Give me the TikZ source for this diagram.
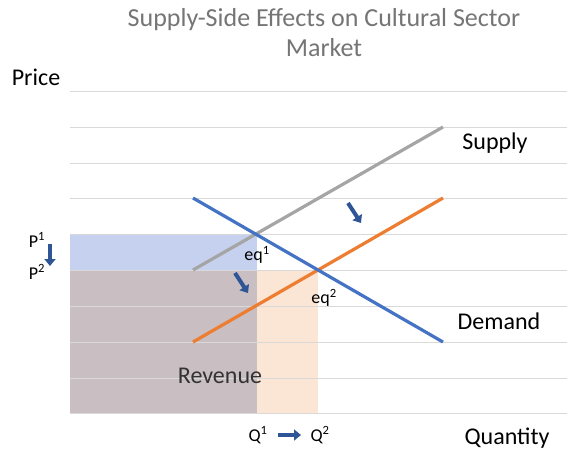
\documentclass[tikz,border=0pt]{standalone}
\usepackage{fontspec}
\setmainfont{Carlito}
\usetikzlibrary{arrows.meta}
\definecolor{gridc}{HTML}{D9D9D9}
\definecolor{dblue}{HTML}{4472C4}
\definecolor{sorange}{HTML}{ED7D31}
\definecolor{sgray}{HTML}{A5A5A5}
\definecolor{fblue}{HTML}{C5D1EE}
\definecolor{fbrown}{HTML}{C9BEC1}
\definecolor{fpeach}{HTML}{FBE5D4}
\definecolor{arrc}{HTML}{2F5597}
\definecolor{titlec}{HTML}{757575}
\tikzset{
  gridline/.style={draw=gridc, line width=1pt},
  curve/.style={line width=3.2pt},
  lbl/.style={inner sep=0pt, font=\fontsize{24}{26}\selectfont, text=black},
  small/.style={inner sep=0pt, font=\fontsize{18}{20}\selectfont, text=black},
  eqlbl/.style={inner sep=0pt, font=\fontsize{18}{20}\selectfont, text=black},
  blockarrow/.style={draw=arrc, line width=4pt, -{Triangle[length=7pt,width=11pt]}},
}
\begin{document}
\begin{tikzpicture}[x=1pt,y=-1pt]
\useasboundingbox (0,0) rectangle (583,456);
% fills
\fill[fblue] (70,234) rectangle (257,270);
\fill[fbrown] (70,270) rectangle (257,413);
\fill[fpeach] (257,270) rectangle (318,413);
% grid
\foreach \y in {91,127,163,198,234,270,306,342,378,413}
  \draw[gridline] (70,\y) -- (567,\y);
% coordinates
\coordinate (s1) at (193,270); \coordinate (s2) at (443,127);
\coordinate (o1) at (193,342); \coordinate (o2) at (443,198);
\coordinate (d1) at (193,198); \coordinate (d2) at (443,342);
\draw[curve, sgray] (s1) -- (s2);
\draw[curve, sorange] (o1) -- (o2);
\draw[curve, dblue] (d1) -- (d2);
% title
\node[inner sep=0pt, text=titlec, align=center, font=\fontsize{26}{30}\selectfont] (title) at (324,33) {Supply-Side Effects on Cultural Sector\\Market};
\node[lbl] (price) at (36,77) {Price};
\node[lbl] (supply) at (495,143) {Supply};
\node[lbl] (demand) at (499,321) {Demand};
\node[lbl] (quantity) at (507,438) {Quantity};
\node[lbl, text=black!80] (revenue) at (220,376) {Revenue};
\node[eqlbl] (eq1) at (257,255) {eq\textsuperscript{1}};
\node[eqlbl] (eq2) at (324,298) {eq\textsuperscript{2}};
\node[small] (p1) at (37,240) {P\textsuperscript{1}};
\node[small] (p2) at (37,272) {P\textsuperscript{2}};
\node[small] (q1) at (258,435) {Q\textsuperscript{1}};
\node[small] (q2) at (320,435) {Q\textsuperscript{2}};
% shift arrows
\coordinate (pa1) at (50,244); \coordinate (pa2) at (50,266);
\draw[blockarrow] (pa1) -- (pa2);
\coordinate (qa1) at (278,435); \coordinate (qa2) at (301,435);
\draw[blockarrow] (qa1) -- (qa2);
\coordinate (sa1) at (348,203); \coordinate (sa2) at (361,223);
\draw[blockarrow] (sa1) -- (sa2);
\coordinate (ra1) at (235,273); \coordinate (ra2) at (248,293);
\draw[blockarrow] (ra1) -- (ra2);
\end{tikzpicture}
\end{document}
